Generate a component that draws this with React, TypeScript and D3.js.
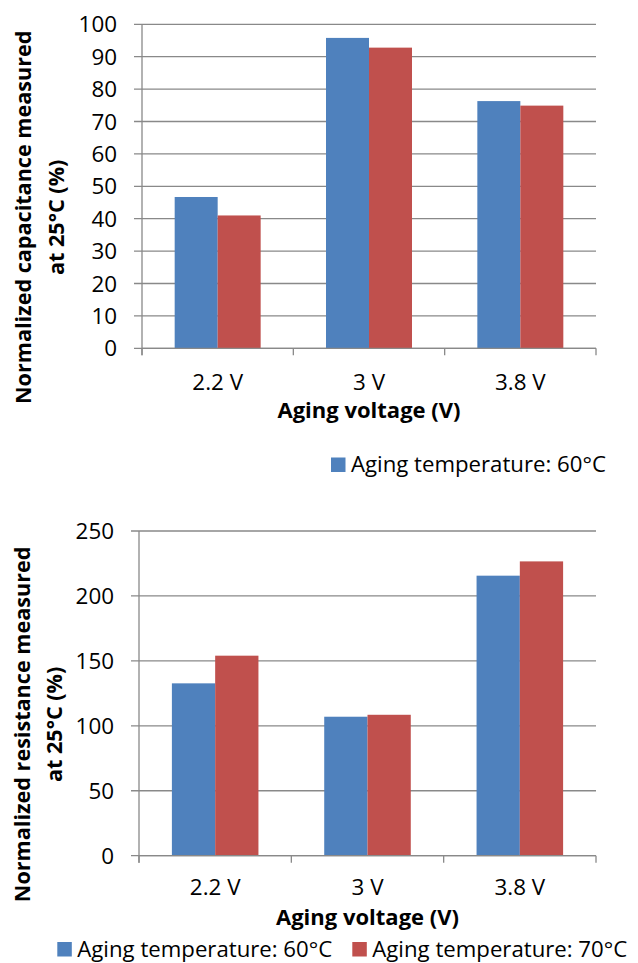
import * as d3 from 'd3'

// aging voltages on the x axis
const voltages = ['2.2 V', '3 V', '3.8 V']
const seriesNames = ['Aging temperature: 60°C', 'Aging temperature: 70°C']
const seriesColors = ['#4F81BD', '#C0504D']

// normalized capacitance (%)
const capacitance60 = [46.7, 95.8, 76.3]
const capacitance70 = [41.0, 92.8, 74.9]
const capacitanceTicks = [0, 10, 20, 30, 40, 50, 60, 70, 80, 90, 100]

// normalized resistance (%)
const resistance60 = [132.7, 107.0, 215.6]
const resistance70 = [154.0, 108.5, 226.6]
const resistanceTicks = [0, 50, 100, 150, 200, 250]

const FONT = '"Open Sans", sans-serif'
const GRID = '#898989'

interface PanelProps {
  left: number
  right: number
  top: number
  bottom: number
  values: number[][]
  ticks: number[]
  titleLines: string[]
  titleX: number[]
  tickBaseline: number
  axisTitleBaseline: number
  legend: { x: number; baseline: number; entries: number[] }
}

function BarPanel(p: PanelProps) {
  const y = d3.scaleLinear()
    .domain([0, d3.max(p.ticks) as number])
    .range([p.bottom, p.top])

  const x0 = d3.scaleBand<string>()
    .domain(voltages)
    .range([p.left, p.right])
    .padding(0)

  const x1 = d3.scaleBand<number>()
    .domain([0, 1])
    .range([0, x0.bandwidth()])
    .paddingInner(0)
    .paddingOuter(0.76)

  const titleCenter = (p.top + p.bottom) / 2 + 31
  const boundaries = [...voltages.map(v => x0(v) as number), p.right]

  return (
    <g fontFamily={FONT} fontSize={22.4} fill="#000">
      {/* horizontal gridlines */}
      {p.ticks.map(t => (
        <line key={'g' + t} x1={p.left - 8} x2={p.right} y1={y(t)} y2={y(t)}
          stroke={GRID} strokeWidth={1.3} />
      ))}

      {/* bars */}
      {voltages.map((v, i) => (
        <g key={v} transform={`translate(${x0(v)},0)`}>
          {p.values.map((s, j) => (
            <rect key={j} x={x1(j)} width={x1.bandwidth()} y={y(s[i])}
              height={y(0) - y(s[i])} fill={seriesColors[j]} />
          ))}
        </g>
      ))}

      {/* axes */}
      <line x1={p.left} x2={p.left} y1={p.top} y2={p.bottom + 7} stroke={GRID} strokeWidth={1.3} />
      <line x1={p.left} x2={p.right} y1={p.bottom} y2={p.bottom} stroke={GRID} strokeWidth={1.3} />
      {boundaries.map((b, i) => (
        <line key={'t' + i} x1={b} x2={b} y1={p.bottom} y2={p.bottom + 7} stroke={GRID} strokeWidth={1.3} />
      ))}

      {/* y tick labels */}
      {p.ticks.map(t => (
        <text key={'l' + t} x={p.left - 25} y={y(t)} dy="0.36em" textAnchor="end">{t}</text>
      ))}

      {/* x tick labels */}
      {voltages.map(v => (
        <text key={'x' + v} x={(x0(v) as number) + x0.bandwidth() / 2} y={p.tickBaseline}
          textAnchor="middle">{v}</text>
      ))}

      <text x={(p.left + p.right) / 2} y={p.axisTitleBaseline} textAnchor="middle"
        fontWeight="bold" fontSize={22}>Aging voltage (V)</text>

      {/* y axis title, two lines */}
      {p.titleLines.map((line, i) => (
        <text key={'yt' + i} transform={`translate(${p.titleX[i]},${titleCenter}) rotate(-90)`}
          textAnchor="middle" fontWeight="bold" fontSize={21.6}>{line}</text>
      ))}

      {/* legend */}
      {p.legend.entries.map((j, k) => {
        const lx = p.legend.x + k * 295
        return (
          <g key={'lg' + j}>
            <rect x={lx} y={p.legend.baseline - 14.5} width={14.5} height={14.5} fill={seriesColors[j]} />
            <text x={lx + 20} y={p.legend.baseline} fontSize={22.2}>{seriesNames[j]}</text>
          </g>
        )
      })}
    </g>
  )
}

export default function App() {
  return (
    <svg width={638} height={963} style={{ position: 'absolute', left: 0, top: 0, background: '#fff' }}>
      <BarPanel
        left={142} right={596} top={24.3} bottom={348.3}
        values={[capacitance60, capacitance70]}
        ticks={capacitanceTicks}
        titleLines={['Normalized capacitance measured', 'at 25°C (%)']}
        titleX={[31, 64]}
        tickBaseline={390}
        axisTitleBaseline={418}
        legend={{ x: 331, baseline: 472, entries: [0] }}
      />
      <BarPanel
        left={139} right={596} top={531} bottom={855.7}
        values={[resistance60, resistance70]}
        ticks={resistanceTicks}
        titleLines={['Normalized resistance measured', 'at 25°C (%)']}
        titleX={[29.5, 62]}
        tickBaseline={895}
        axisTitleBaseline={925}
        legend={{ x: 57.3, baseline: 956.5, entries: [0, 1] }}
      />
    </svg>
  )
}
